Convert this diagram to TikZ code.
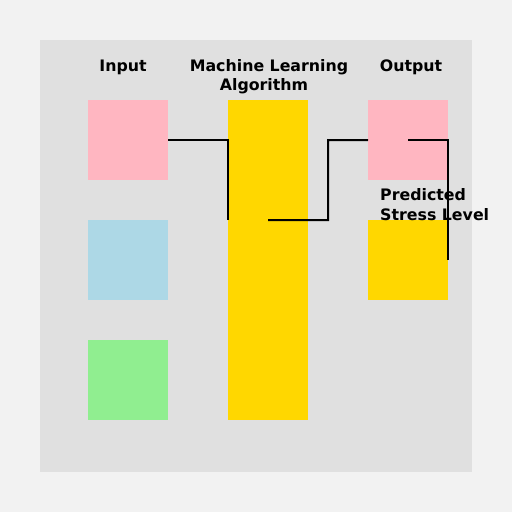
\documentclass[tikz,border=0pt]{standalone}
\usepackage{fontspec}
\setmainfont{DejaVu Sans}
\definecolor{outerbg}{HTML}{F2F2F2}
\definecolor{innerbg}{HTML}{E0E0E0}
\definecolor{pinkc}{HTML}{FFB6C1}
\definecolor{bluec}{HTML}{ADD8E6}
\definecolor{greenc}{HTML}{90EE90}
\definecolor{goldc}{HTML}{FFD700}
\begin{document}
\begin{tikzpicture}[x=1pt,y=-1pt,
  blk/.style={draw=none,minimum width=80pt,minimum height=80pt,inner sep=0pt,anchor=north west},
  lbl/.style={font=\bfseries\fontsize{15.8}{19}\selectfont,inner sep=0pt,anchor=base},
  conn/.style={draw=black,line width=2pt}]
\useasboundingbox (0,0) rectangle (512,512);
\fill[outerbg] (0,0) rectangle (512,512);
\fill[innerbg] (40,40) rectangle (472,472);
\node[blk,fill=pinkc] (in1) at (88,100) {};
\node[blk,fill=bluec] (in2) at (88,220) {};
\node[blk,fill=greenc] (in3) at (88,340) {};
\node[blk,fill=goldc,minimum height=320pt] (ml) at (228,100) {};
\node[blk,fill=pinkc] (out1) at (368,100) {};
\node[blk,fill=goldc] (out2) at (368,220) {};
\node[lbl] (tin) at (123,71) {Input};
\node[lbl] (tml1) at (269,71) {Machine Learning};
\node[lbl] (tml2) at (264,90) {Algorithm};
\node[lbl] (tout) at (411,71) {Output};
\node[lbl,anchor=base west] (tp1) at (380,200) {Predicted};
\node[lbl,anchor=base west] (tp2) at (380,220) {Stress Level};
\coordinate (c1) at (228,220);
\coordinate (c2) at (268,220);
\coordinate (c3) at (408,140);
\coordinate (c4) at (448,260);
\draw[conn] (in1.east) -| (c1);
\draw[conn] (c2) -| (328,140) -- (out1.west);
\draw[conn] (c3) -| (c4);
\end{tikzpicture}
\end{document}
